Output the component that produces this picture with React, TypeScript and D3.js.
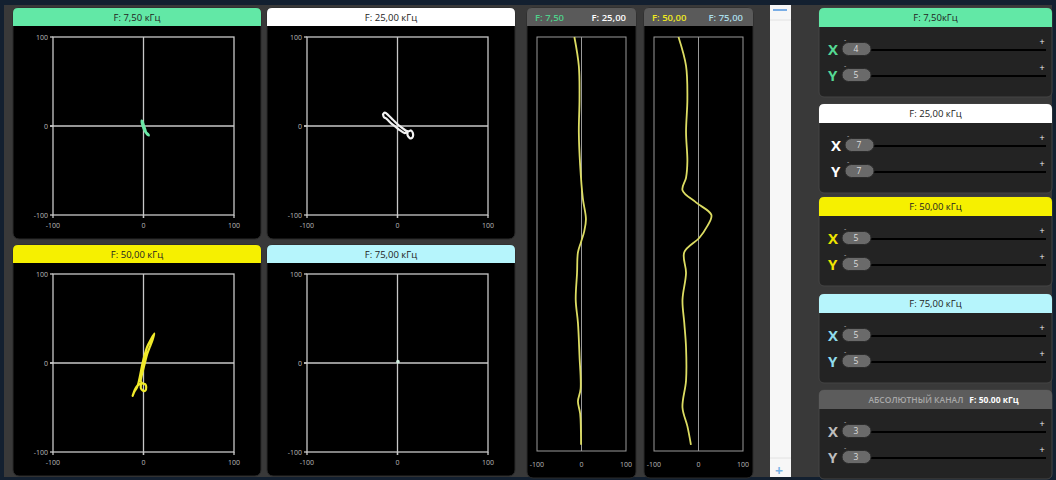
import React from "react";
import * as d3 from "d3";

// ---------- data ----------
const axisTicks = [-100, 0, 100];
const scatterTitles = ["F: 7,50 кГц", "F: 25,00 кГц", "F: 50,00 кГц", "F: 75,00 кГц"];
const lis750: [number, number][] = [[-2, 6], [-1, 5], [0, 2], [1, -1], [2, -4], [3, -7], [5, -9], [6, -10.5], [4.5, -10], [2.5, -7.5], [0.5, -4], [-1, 0], [-2, 4], [-2, 6]];
const lis2500: [number, number][] = [[-16, 13], [-14, 15], [-10, 12], [-5, 7], [0, 2], [5, -2], [9, -5], [12, -6], [15, -5], [17, -8], [17, -12], [15, -14], [13, -13], [11, -10], [11, -7], [8, -8], [3, -5], [-2, -1], [-7, 3], [-12, 8], [-15, 10], [-16, 13]];
const lis5000: [number, number][] = [[-12, -37], [-10, -32], [-7, -27], [-5, -20], [-3, -10], [-1, 0], [1, 8], [4, 18], [8, 26], [12, 33], [10, 26], [7, 18], [4, 10], [2, 2], [0, -6], [-2, -14], [-3, -21], [-1, -23], [2, -24], [3, -27], [2, -31], [-1, -31], [-3, -28], [-3, -24], [-5, -24], [-8, -27], [-10, -31], [-12, -37]];
const lis7500: [number, number][] = [[0.5, 1.5], [1, 0.5], [1.5, 1.2]];

const stripTitlesA = ["F: 7,50", "F: 25,00"];
const stripTitlesB = ["F: 50,00", "F: 75,00"];
const depthA = [0, 7, 15, 23, 31, 39, 44, 47, 49.5, 52, 57, 63.5, 69, 77, 85, 88, 91, 98.5];
const traceA = [-16, -6, -4.5, -6, -3, 3, 10, 6, -1, -8, -10, -13, -8, -4.5, -2, -8, -3, -1];
const depthB = [0, 7, 15, 23, 30, 34, 37, 40, 43, 46, 48.5, 52, 57, 63.5, 69, 75, 83, 89.5, 94, 98.5];
const traceB = [-45, -28, -25, -28, -25, -28, -36, -5, 29, 18, 2, -32, -28, -36, -32, -28, -28, -36, -25, -17];

const channelTitles = ["F: 7,50кГц", "F: 25,00 кГц", "F: 50,00 кГц", "F: 75,00 кГц"];
const absTitle = "АБСОЛЮТНЫЙ КАНАЛ";
const absFreq = "F: 50.00 кГц";
const gainX = [4, 7, 5, 5, 3];
const gainY = [5, 7, 5, 5, 3];

// ---------- style ----------
const FONT = "'Open Sans', 'Noto Sans', sans-serif";
const colGreen = "#62e8a6";
const colWhite = "#ffffff";
const colYellow = "#f6f000";
const colCyan = "#b6f5fc";
const labelCols = ["#55d994", "#ffffff", "#eee400", "#8fdcec", "#bdbdbd"];
const headerCols = [colGreen, colWhite, colYellow, colCyan, "#5c5c5c"];

function ScatterPanel({ x, y, title, header, color, data, dot }: any) {
  const pw = 248, ph = 231;
  const left = x + 40, top = y + 29, size = 181, vsize = 178;
  const sx = d3.scaleLinear().domain([-100, 100]).range([left, left + size]);
  const sy = d3.scaleLinear().domain([-100, 100]).range([top + vsize, top]);
  const line = d3.line<[number, number]>().x(d => sx(d[0])).y(d => sy(d[1])).curve(d3.curveCatmullRomClosed.alpha(0.5));
  return (
    <g>
      <rect x={x} y={y} width={pw} height={ph} rx={6} fill="#000" stroke="#2a2a2a" />
      <path d={`M${x},${y + 18} V${y + 5} Q${x},${y} ${x + 5},${y} H${x + pw - 5} Q${x + pw},${y} ${x + pw},${y + 5} V${y + 18} Z`} fill={header} />
      <text x={x + pw / 2} y={y + 12.8} textAnchor="middle" fontSize={9.5} fill="#222" fontFamily={FONT}>{title}</text>
      <rect x={left} y={top} width={size} height={vsize} fill="none" stroke="#c8c8c8" strokeWidth={1.3} />
      <line x1={sx(0)} x2={sx(0)} y1={top} y2={top + vsize + 3} stroke="#c8c8c8" strokeWidth={1.3} />
      <line x1={left - 3} x2={left + size} y1={sy(0)} y2={sy(0)} stroke="#c8c8c8" strokeWidth={1.3} />
      {axisTicks.map(t => (
        <g key={t}>
          <line x1={left - 3} x2={left} y1={sy(t)} y2={sy(t)} stroke="#c8c8c8" strokeWidth={1.3} />
          <line x1={sx(t)} x2={sx(t)} y1={top + vsize} y2={top + vsize + 3} stroke="#c8c8c8" strokeWidth={1.3} />
          <text x={left - 5} y={sy(t) + 2.5} textAnchor="end" fontSize={7} fill="#bbb" fontFamily={FONT}>{t}</text>
          <text x={sx(t)} y={top + vsize + 13} textAnchor="middle" fontSize={7} fill="#bbb" fontFamily={FONT}>{t}</text>
        </g>
      ))}
      {dot ? (
        <circle cx={sx(data[0][0])} cy={sy(data[0][1])} r={1.8} fill={color} />
      ) : (
        <path d={line(data) || ""} fill="none" stroke={color} strokeWidth={2.2} strokeLinejoin="round" />
      )}
    </g>
  );
}

function StripPanel({ x, titles, titleCols, depth, values }: any) {
  const y = 8, pw = 109, ph = 470;
  const left = x + 10, w = 89, top = 37, bottom = 451;
  const sx = d3.scaleLinear().domain([-100, 100]).range([left, left + w]);
  const sy = d3.scaleLinear().domain([0, 100]).range([top, bottom]);
  const pts: [number, number][] = depth.map((d: number, i: number) => [values[i], d]);
  const line = d3.line<[number, number]>().x(d => sx(d[0])).y(d => sy(d[1])).curve(d3.curveCatmullRom.alpha(0.5));
  return (
    <g>
      <rect x={x} y={y} width={pw} height={ph} rx={6} fill="#000" stroke="#2a2a2a" />
      <path d={`M${x},${y + 18} V${y + 5} Q${x},${y} ${x + 5},${y} H${x + pw - 5} Q${x + pw},${y} ${x + pw},${y + 5} V${y + 18} Z`} fill="#5a5a5a" />
      <text x={x + 8} y={y + 12.5} fontSize={9.5} fontWeight={600} fill={titleCols[0]} fontFamily={FONT}>{titles[0]}</text>
      <text x={x + pw - 10} y={y + 12.5} textAnchor="end" fontSize={9.5} fontWeight={600} fill={titleCols[1]} fontFamily={FONT}>{titles[1]}</text>
      <rect x={left} y={top} width={w} height={bottom - top} fill="none" stroke="#9a9a9a" strokeWidth={1} />
      <line x1={sx(0)} x2={sx(0)} y1={top} y2={bottom} stroke="#9a9a9a" strokeWidth={1} />
      {axisTicks.map(t => (
        <text key={t} x={sx(t)} y={bottom + 16} textAnchor="middle" fontSize={7} fill="#bbb" fontFamily={FONT}>{t}</text>
      ))}
      <path d={line(pts) || ""} fill="none" stroke="#dcdc62" strokeWidth={1.8} />
    </g>
  );
}

function ChannelPanel({ y, idx, title, isAbs }: any) {
  const x = 819, pw = 233, ph = 89;
  const header = headerCols[idx];
  const lc = labelCols[idx];
  const rows = [{ lab: "X", v: gainX[idx], cy: y + 41 }, { lab: "Y", v: gainY[idx], cy: y + 67 }];
  const pillX = idx === 1 ? 845 : 842;
  return (
    <g>
      <rect x={x} y={y} width={pw} height={ph} rx={5} fill="#232323" stroke="#444" strokeWidth={1} />
      <path d={`M${x},${y + 19} V${y + 5} Q${x},${y} ${x + 5},${y} H${x + pw - 5} Q${x + pw},${y} ${x + pw},${y + 5} V${y + 19} Z`} fill={header} />
      {isAbs ? (
        <text x={x + pw / 2 + 8} y={y + 13} textAnchor="middle" fontSize={8.5} fontFamily={FONT}>
          <tspan fill="#a8a8a8" fontWeight={600}>{absTitle}</tspan>
          <tspan fill="#ffffff" fontWeight={700} dx={6}>{absFreq}</tspan>
        </text>
      ) : (
        <text x={x + pw / 2} y={y + 13} textAnchor="middle" fontSize={9.5} fill="#222" fontFamily={FONT}>{title}</text>
      )}
      {rows.map(r => (
        <g key={r.lab}>
          <text x={pillX - 14} y={r.cy + 6} fontSize={15} fontWeight={700} fill={lc} fontFamily={FONT}>{r.lab}</text>
          <line x1={pillX + 26} x2={1046} y1={r.cy + 1} y2={r.cy + 1} stroke="#000" strokeWidth={2} />
          <rect x={pillX} y={r.cy - 6.5} width={29} height={13} rx={6.5} fill="#6a6a6a" stroke="#2b2b2b" strokeWidth={1} />
          <text x={pillX + 14} y={r.cy + 3} textAnchor="middle" fontSize={8.5} fill="#dcdcdc" fontFamily={FONT}>{r.v}</text>
          <text x={pillX + 2} y={r.cy - 7} fontSize={7} fill="#bbb" fontFamily={FONT}>-</text>
          <text x={1042} y={r.cy - 4} textAnchor="middle" fontSize={9} fill="#f0f0f0" fontFamily={FONT}>+</text>
        </g>
      ))}
    </g>
  );
}

export default function App() {
  const chanY = [8, 104, 197, 294, 390];
  return (
    <svg width={1056} height={480} style={{ position: "fixed", left: 0, top: 0, display: "block" }} xmlns="http://www.w3.org/2000/svg">
      <rect x={0} y={0} width={1056} height={480} fill="#132030" />
      <rect x={4} y={5} width={1048} height={472} fill="#393939" />
      <ScatterPanel x={13} y={8} title={scatterTitles[0]} header={colGreen} color="#6ae8a6" data={lis750} />
      <ScatterPanel x={267} y={8} title={scatterTitles[1]} header={colWhite} color="#f2f2f2" data={lis2500} />
      <ScatterPanel x={13} y={245} title={scatterTitles[2]} header={colYellow} color="#f0ea2a" data={lis5000} />
      <ScatterPanel x={267} y={245} title={scatterTitles[3]} header={colCyan} color="#cfeee0" data={lis7500} dot />
      <StripPanel x={527} titles={stripTitlesA} titleCols={["#4fd08a", "#ffffff"]} depth={depthA} values={traceA} />
      <StripPanel x={644} titles={stripTitlesB} titleCols={["#f0ea20", "#a9dce8"]} depth={depthB} values={traceB} />
      <rect x={770} y={5} width={21} height={472} fill="#f7f7f7" />
      <line x1={773} x2={787} y1={10} y2={10} stroke="#7aaee6" strokeWidth={2} />
      <line x1={770} x2={791} y1={20} y2={20} stroke="#e2e2e2" strokeWidth={1} />
      <line x1={770} x2={791} y1={458} y2={458} stroke="#e2e2e2" strokeWidth={1} />
      <text x={779} y={476} textAnchor="middle" fontSize={14} fontWeight={700} fill="#7ab4e6" fontFamily={FONT}>+</text>
      {chanY.map((cy, i) => (
        <ChannelPanel key={i} y={cy} idx={i} title={channelTitles[i]} isAbs={i === 4} />
      ))}
    </svg>
  );
}
